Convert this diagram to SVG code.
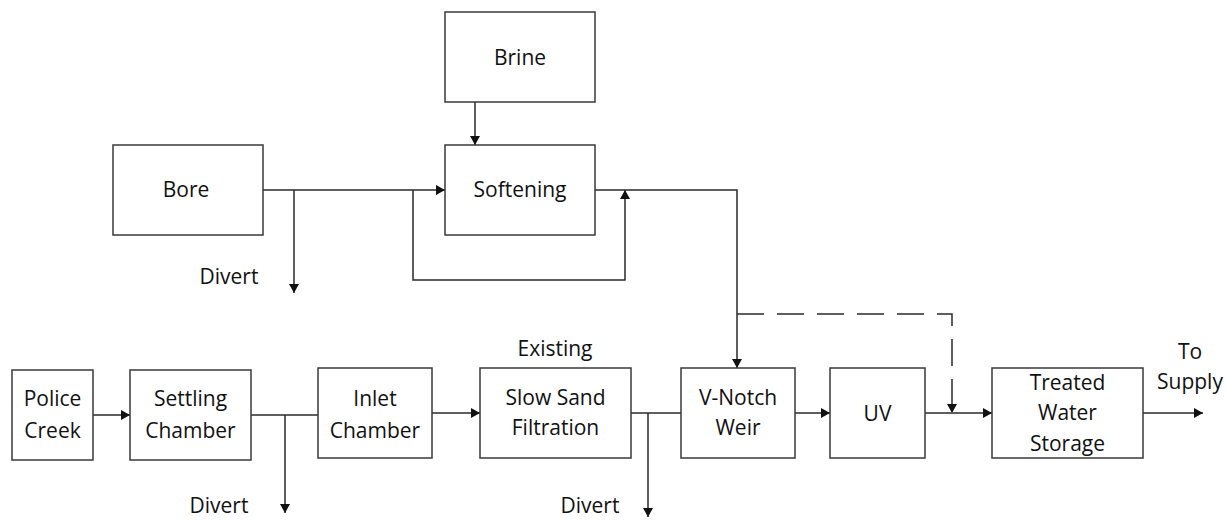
<svg xmlns="http://www.w3.org/2000/svg" width="1227" height="520" viewBox="0 0 1227 520">
<style>
.box{fill:#fff;stroke:#3a3a3a;stroke-width:1.5}
.lbl{font-family:"Open Sans","Liberation Sans",sans-serif;font-size:21px;fill:#111;text-anchor:middle}
.ln{fill:none;stroke:#2a2a2a;stroke-width:1.5}
.arr{marker-end:url(#ah)}
.dash{stroke-dasharray:27 13}
</style>
<defs>
<marker id="ah" markerUnits="userSpaceOnUse" markerWidth="11" markerHeight="11" refX="9" refY="5.5" orient="auto">
<path d="M0,0.5 L9,5.5 L0,10.5 z" fill="#111"/>
</marker>
</defs>
<rect width="1227" height="520" fill="#fff"/>
<g id="connectors">
<path class="ln arr" d="M263,190 H445"/>
<path class="ln arr" d="M294,190 V293"/>
<path class="ln arr" d="M413,190 V280 H625 V190"/>
<path class="ln arr" d="M475,102 V145"/>
<path class="ln arr" d="M595,190 H737 V368"/>
<path class="ln arr dash" d="M737,314 H952 V413"/>
<path class="ln arr" d="M93,415 H130"/>
<path class="ln" d="M251,415 H318"/>
<path class="ln arr" d="M285,415 V513"/>
<path class="ln arr" d="M432,413 H480"/>
<path class="ln" d="M631,413 H681"/>
<path class="ln arr" d="M648,413 V517"/>
<path class="ln arr" d="M795,413 H830"/>
<path class="ln arr" d="M925,413 H992"/>
<path class="ln arr" d="M1143,413 H1203"/>
</g>
<g id="brine"><rect class="box" x="445" y="12" width="150" height="90"/><text class="lbl" x="520" y="65">Brine</text></g>
<g id="bore"><rect class="box" x="113" y="145" width="150" height="90"/><text class="lbl" x="186" y="197">Bore</text></g>
<g id="softening"><rect class="box" x="445" y="145" width="150" height="90"/><text class="lbl" x="520" y="197">Softening</text></g>
<g id="police-creek"><rect class="box" x="12" y="370" width="81" height="90"/><text class="lbl" x="52.5" y="406">Police</text><text class="lbl" x="52.5" y="438">Creek</text></g>
<g id="settling-chamber"><rect class="box" x="130" y="370" width="121" height="90"/><text class="lbl" x="190.5" y="406">Settling</text><text class="lbl" x="190.5" y="438">Chamber</text></g>
<g id="inlet-chamber"><rect class="box" x="318" y="368" width="114" height="90"/><text class="lbl" x="375" y="406">Inlet</text><text class="lbl" x="375" y="438">Chamber</text></g>
<g id="slow-sand"><rect class="box" x="480" y="368" width="151" height="90"/><text class="lbl" x="555.5" y="405">Slow Sand</text><text class="lbl" x="555.5" y="435">Filtration</text></g>
<g id="v-notch"><rect class="box" x="681" y="368" width="114" height="90"/><text class="lbl" x="738" y="405">V-Notch</text><text class="lbl" x="738" y="435">Weir</text></g>
<g id="uv"><rect class="box" x="830" y="368" width="95" height="90"/><text class="lbl" x="877.5" y="421">UV</text></g>
<g id="treated-water"><rect class="box" x="992" y="368" width="151" height="90"/><text class="lbl" x="1067.5" y="390">Treated</text><text class="lbl" x="1067.5" y="420">Water</text><text class="lbl" x="1067.5" y="451">Storage</text></g>
<g id="labels">
<text class="lbl" x="229" y="284">Divert</text>
<text class="lbl" x="555" y="356">Existing</text>
<text class="lbl" x="219" y="513">Divert</text>
<text class="lbl" x="590" y="513">Divert</text>
<text class="lbl" x="1190" y="359">To</text>
<text class="lbl" x="1190" y="389">Supply</text>
</g>
</svg>
